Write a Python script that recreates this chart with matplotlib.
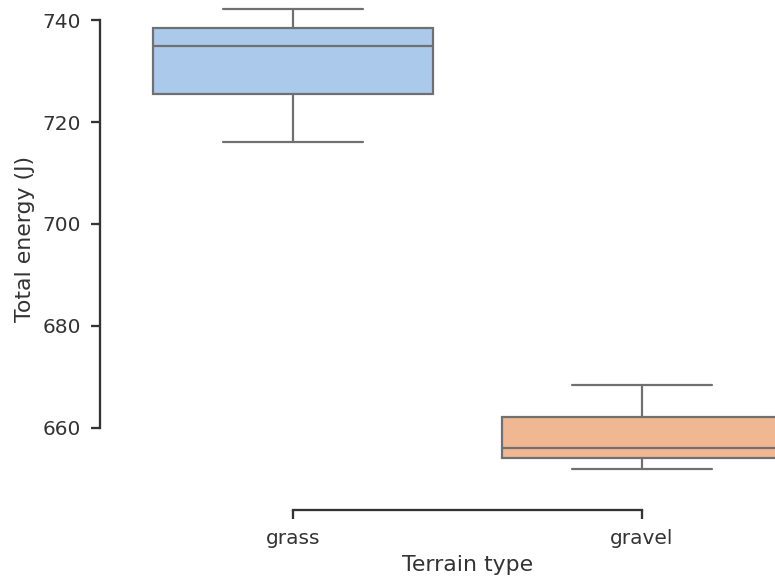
import matplotlib
matplotlib.use("Agg")
import matplotlib.pyplot as plt
import seaborn as sns

# box statistics
terrain = ["grass", "gravel"]
whis_lo = [716.1, 651.9]
q1 = [725.5, 654.0]
median = [734.9, 656.1]
q3 = [738.4, 662.2]
whis_hi = [742.2, 668.3]

sns.set_theme(style="ticks", context="notebook")
plt.rcParams["font.family"] = ["DejaVu Sans"]
dark = ".2"
plt.rcParams.update({"text.color": dark, "axes.labelcolor": dark,
                     "xtick.color": dark, "ytick.color": dark,
                     "axes.edgecolor": dark})

dpi = 132
fig = plt.figure(figsize=(775 / dpi, 578 / dpi), dpi=dpi)
ax = fig.add_axes([0.1529, 0.1498, 0.9006, 0.8727])

colors = [sns.desaturate(c, 0.75) for c in sns.color_palette("pastel", 2)]
line_col = "#707070"

stats = []
for i, name in enumerate(terrain):
    stats.append(dict(label=name, whislo=whis_lo[i], q1=q1[i], med=median[i],
                      q3=q3[i], whishi=whis_hi[i], fliers=[]))

bp = ax.bxp(stats, positions=range(len(terrain)), widths=0.8, capwidths=0.4,
            patch_artist=True, showfliers=False,
            boxprops=dict(edgecolor=line_col, linewidth=1.2),
            medianprops=dict(color=line_col, linewidth=1.2),
            whiskerprops=dict(color=line_col, linewidth=1.2),
            capprops=dict(color=line_col, linewidth=1.2))
for patch, c in zip(bp["boxes"], colors):
    patch.set_facecolor(c)

ax.set_xlim(-0.5, 1.5)
ax.set_ylim(647.5, 746.5)
ax.set_yticks([660, 680, 700, 720, 740])
ax.set_xticks(range(len(terrain)))
ax.set_xticklabels(terrain)
ax.set_xlabel("Terrain type", fontsize=12)
ax.set_ylabel("Total energy (J)", fontsize=12)
ax.tick_params(labelsize=11, length=5, width=1.25, pad=5.5)

sns.despine(ax=ax, offset=10)
ax.spines["left"].set_bounds(660, 740)
ax.spines["bottom"].set_bounds(0, 1)

fig.savefig("out.png", dpi=dpi)
